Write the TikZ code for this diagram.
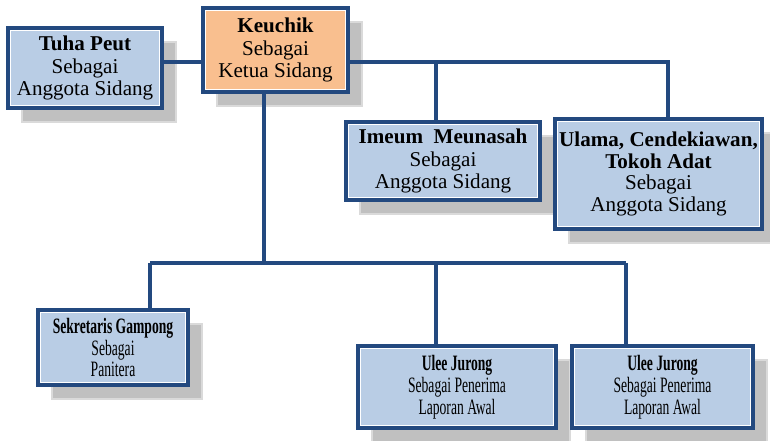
\documentclass[tikz,border=0pt]{standalone}
\usepackage{fontspec}
\setmainfont{Liberation Serif}
\newfontfamily\narrowfont[FakeStretch=0.62]{Liberation Serif}
\usetikzlibrary{shadows}
\definecolor{orgblue}{HTML}{23497F}
\definecolor{boxblue}{HTML}{B9CDE5}
\definecolor{boxorange}{HTML}{F9BF8F}
\definecolor{shadegray}{HTML}{C0C0C0}
\definecolor{shadeline}{HTML}{DADADA}
\tikzset{
  font={\fontsize{12pt}{13pt}\selectfont},
  orgbox/.style={draw=orgblue, line width=2.3pt, fill=boxblue, align=center,
    shape=rectangle, inner sep=0pt, outer sep=0pt,
    general shadow={fill=shadegray, draw=shadeline, line width=0.8pt,
      shadow xshift=0.28cm, shadow yshift=-0.28cm}},
  headbox/.style={orgbox, fill=boxorange},
  lowbox/.style={orgbox, font={\narrowfont\fontsize{12.5pt}{12.5pt}\selectfont}},
  conn/.style={draw=orgblue, line width=2.2pt}}

\begin{document}
\begin{tikzpicture}[x=0.02cm, y=-0.02cm]
  \useasboundingbox (0,0) rectangle (770,440);
  % upper row
  \node (keuchik) [headbox, minimum width=2.9cm, minimum height=1.68cm] at (275.5,50)
    {\textbf{Keuchik}\\Sebagai\\Ketua Sidang};
  \node (tuha) [orgbox, minimum width=3.08cm, minimum height=1.6cm] at (85,68)
    {\textbf{Tuha Peut}\\Sebagai\\Anggota Sidang};
  \node (imeum) [orgbox, minimum width=3.88cm, minimum height=1.56cm] at (443,161)
    {\textbf{Imeum\ \ Meunasah}\\Sebagai\\Anggota Sidang};
  \node (ulama) [orgbox, minimum width=4.14cm, minimum height=2.2cm, font={\fontsize{12pt}{12.3pt}\selectfont}] at (658.5,174)
    {\textbf{Ulama, Cendekiawan,}\\\textbf{Tokoh Adat}\\Sebagai\\Anggota Sidang};
  % lower row
  \node (sekretaris) [lowbox, minimum width=3cm, minimum height=1.5cm] at (113,347.5)
    {\textbf{Sekretaris Gampong}\\Sebagai\\Panitera};
  \node (ulee1) [lowbox, minimum width=3.96cm, minimum height=1.64cm] at (457,387)
    {\textbf{Ulee Jurong}\\Sebagai Penerima\\Laporan Awal};
  \node (ulee2) [lowbox, minimum width=3.62cm, minimum height=1.64cm] at (662.5,387)
    {\textbf{Ulee Jurong}\\Sebagai Penerima\\Laporan Awal};
  % white inner rule of each box
  \foreach \n in {keuchik,tuha,imeum,ulama,sekretaris,ulee1,ulee2}
    \draw[white, line width=0.7pt] ([shift={(1.5pt,-1.5pt)}]\n.north west)
      rectangle ([shift={(-1.5pt,1.5pt)}]\n.south east);
  % connectors
  \coordinate (topbus) at (0,62);
  \coordinate (t1) at (436,62);
  \coordinate (t2) at (668,62);
  \coordinate (b0) at (264,263);
  \coordinate (b1) at (150,263);
  \coordinate (b2) at (436,263);
  \coordinate (b3) at (626,263);
  \draw[conn] (tuha.east |- topbus) -- (keuchik.west |- topbus);
  \draw[conn] (keuchik.east |- topbus) -- (t2) -- (t2 |- ulama.north);
  \draw[conn] (t1) -- (t1 |- imeum.north);
  \draw[conn] (keuchik.south -| b0) -- (b0);
  \draw[conn] (b1) -- (b3);
  \draw[conn] (b1) -- (b1 |- sekretaris.north);
  \draw[conn] (b2) -- (b2 |- ulee1.north);
  \draw[conn] (b3) -- (b3 |- ulee2.north);
\end{tikzpicture}
\end{document}
